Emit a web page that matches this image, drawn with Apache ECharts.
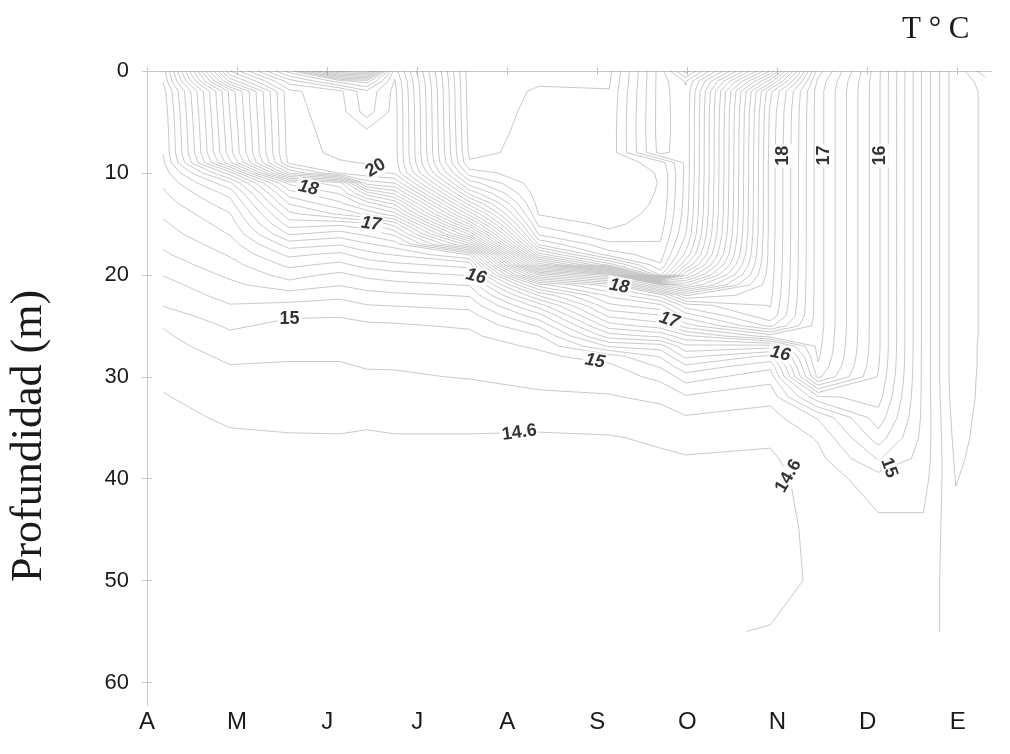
<!DOCTYPE html>
<html>
<head>
<meta charset="utf-8">
<title>Temperatura - Profundidad</title>
<script src="https://cdn.jsdelivr.net/npm/echarts@6/dist/echarts.min.js"></script>
<style>
  html, body { margin: 0; padding: 0; background: #ffffff; }
  #chart { width: 1010px; height: 754px; }
</style>
</head>
<body>
<div id="chart"></div>
<script>
// Month initials along the time axis (A = April ... E = January)
const monthLabels = ['A', 'M', 'J', 'J', 'A', 'S', 'O', 'N', 'D', 'E'];
const depthTicks = [0, 10, 20, 30, 40, 50, 60];

// Sampling times of each temperature profile, in months after the start of April
const stationTimes = [0.18, 0.92, 1.58, 2.14, 2.44, 2.75, 3.58, 4.35, 5.13, 5.70, 5.98, 6.92, 7.45, 8.12, 8.62, 8.98, 9.31];

// Depths (m) at which every profile is given
const depths = [0, 1, 2, 4, 6, 8, 9, 10, 11, 12, 13, 14, 15, 16, 17, 18, 19, 20, 21, 22, 23, 24, 25, 26, 27, 28, 29, 30, 32, 34, 36, 38, 40, 45, 50, 55];

// Temperature (deg C) profiles, one row per sampling time, one value per depth
const temperature = [
  [16.3, 16.22, 16.12, 16.06, 16.03, 16.01, 15.96, 15.89, 15.83, 15.77, 15.71, 15.63, 15.57, 15.51, 15.43, 15.37, 15.29, 15.21, 15.13, 15.07, 15.01, 14.91, 14.81, 14.77, 14.73, 14.69, 14.66, 14.63, 14.59, 14.56, 14.54, 14.52, 14.51, 14.5, 14.5, 14.5],
  [19.6, 19.05, 18.25, 18.21, 18.16, 18.12, 17.95, 17.1, 16.55, 16.27, 16.11, 15.99, 15.89, 15.81, 15.71, 15.62, 15.53, 15.44, 15.35, 15.27, 15.19, 15.11, 15.03, 14.96, 14.9, 14.84, 14.79, 14.74, 14.67, 14.62, 14.58, 14.55, 14.53, 14.51, 14.5, 14.5],
  [20.9, 20.3, 19.95, 19.93, 19.91, 19.9, 19.85, 19.22, 18.05, 17.7, 17.42, 17.15, 16.9, 16.62, 16.3, 16.05, 15.85, 15.68, 15.52, 15.31, 15.15, 15.02, 14.95, 14.9, 14.86, 14.82, 14.78, 14.75, 14.69, 14.63, 14.59, 14.56, 14.53, 14.51, 14.5, 14.5],
  [22.5, 20.9, 20.15, 20.11, 20.08, 20.05, 19.98, 19.82, 18.3, 18.02, 17.75, 17.45, 16.85, 16.5, 16.22, 15.95, 15.75, 15.55, 15.41, 15.25, 15.12, 15.01, 14.95, 14.91, 14.86, 14.82, 14.78, 14.75, 14.71, 14.64, 14.59, 14.56, 14.53, 14.51, 14.5, 14.5],
  [22.6, 21.1, 20.55, 20.5, 20.15, 20.06, 20.01, 19.93, 19.5, 18.7, 18.1, 17.65, 16.95, 16.65, 16.37, 16.12, 15.88, 15.66, 15.48, 15.33, 15.19, 15.05, 14.97, 14.92, 14.88, 14.84, 14.81, 14.77, 14.71, 14.63, 14.58, 14.55, 14.53, 14.51, 14.5, 14.5],
  [20.3, 20.18, 20.14, 20.12, 20.12, 20.12, 20.1, 20.03, 19.6, 19.05, 18.45, 17.95, 17.3, 16.85, 16.5, 16.22, 15.95, 15.72, 15.53, 15.36, 15.21, 15.06, 14.98, 14.93, 14.89, 14.85, 14.81, 14.78, 14.72, 14.64, 14.59, 14.56, 14.54, 14.51, 14.5, 14.5],
  [22.72, 22.71, 22.7, 22.69, 22.67, 22.64, 22.58, 22.3, 21.9, 21.45, 20.9, 20.3, 19.62, 18.82, 17.9, 16.62, 16.08, 15.82, 15.61, 15.42, 15.26, 15.12, 15.02, 14.96, 14.91, 14.87, 14.83, 14.81, 14.72, 14.64, 14.59, 14.56, 14.54, 14.51, 14.5, 14.5],
  [22.65, 22.62, 22.58, 22.56, 22.55, 22.55, 22.55, 22.55, 22.54, 22.52, 22.48, 22.42, 22.25, 22.03, 21.63, 20.9, 19.85, 18.45, 17.3, 16.62, 16.1, 15.72, 15.42, 15.18, 15.03, 14.95, 14.91, 14.87, 14.76, 14.65, 14.58, 14.56, 14.54, 14.52, 14.5, 14.5],
  [22.66, 22.63, 22.59, 22.56, 22.55, 22.55, 22.55, 22.55, 22.55, 22.55, 22.55, 22.5, 22.45, 22.35, 22.15, 21.9, 21.1, 19.1, 17.9, 17.45, 17.15, 16.85, 16.5, 16.1, 15.62, 15.1, 14.95, 14.91, 14.78, 14.66, 14.59, 14.56, 14.54, 14.52, 14.5, 14.5],
  [21.5, 21.5, 21.5, 21.5, 21.5, 21.52, 22.3, 22.38, 22.39, 22.38, 22.36, 22.34, 22.3, 22.25, 22.18, 22.1, 21.98, 21.65, 19.2, 17.9, 17.35, 16.98, 16.7, 16.25, 15.7, 15.42, 15.22, 15.05, 14.85, 14.7, 14.62, 14.58, 14.55, 14.52, 14.5, 14.5],
  [22.3, 21.82, 21.77, 21.75, 21.75, 21.75, 21.75, 21.75, 21.74, 21.73, 21.72, 21.7, 21.66, 21.61, 21.5, 21.35, 21.02, 20.45, 19.65, 18.62, 17.9, 17.5, 17.1, 16.55, 16.15, 15.85, 15.55, 15.3, 14.97, 14.78, 14.65, 14.59, 14.56, 14.53, 14.52, 14.55],
  [19.8, 19.1, 18.45, 18.36, 18.34, 18.33, 18.32, 18.32, 18.32, 18.32, 18.32, 18.32, 18.32, 18.32, 18.31, 18.31, 18.3, 18.29, 18.27, 18.25, 18.21, 18.15, 17.85, 17.1, 16.1, 15.55, 15.25, 15.08, 14.86, 14.72, 14.63, 14.57, 14.53, 14.48, 14.47, 14.62],
  [17.3, 17.15, 17.1, 17.1, 17.1, 17.1, 17.1, 17.1, 17.1, 17.1, 17.1, 17.1, 17.1, 17.1, 17.1, 17.1, 17.1, 17.1, 17.1, 17.1, 17.1, 17.1, 17.1, 17.08, 17.06, 17.03, 16.97, 16.85, 15.75, 15.02, 14.82, 14.74, 14.7, 14.68, 14.66, 14.65],
  [16.05, 16.04, 16.04, 16.04, 16.04, 16.04, 16.04, 16.04, 16.04, 16.04, 16.04, 16.04, 16.04, 16.04, 16.04, 16.04, 16.04, 16.04, 16.04, 16.04, 16.04, 16.04, 16.04, 16.04, 16.04, 16.03, 16.01, 15.98, 15.88, 15.72, 15.5, 15.22, 14.9, 14.75, 14.7, 14.68],
  [14.95, 14.95, 14.95, 14.95, 14.95, 14.95, 14.95, 14.95, 14.95, 14.95, 14.95, 14.95, 14.95, 14.95, 14.95, 14.95, 14.95, 14.95, 14.95, 14.95, 14.95, 14.95, 14.95, 14.95, 14.95, 14.95, 14.95, 14.95, 14.95, 14.95, 14.94, 14.92, 14.88, 14.76, 14.7, 14.68],
  [14.25, 14.25, 14.25, 14.25, 14.25, 14.25, 14.25, 14.25, 14.25, 14.25, 14.25, 14.25, 14.25, 14.25, 14.25, 14.25, 14.25, 14.25, 14.25, 14.25, 14.25, 14.25, 14.25, 14.25, 14.25, 14.25, 14.25, 14.25, 14.27, 14.3, 14.33, 14.36, 14.39, 14.46, 14.5, 14.52],
  [14.75, 14.5, 14.45, 14.45, 14.45, 14.45, 14.45, 14.45, 14.45, 14.45, 14.45, 14.45, 14.45, 14.45, 14.45, 14.45, 14.45, 14.45, 14.45, 14.45, 14.45, 14.45, 14.45, 14.45, 14.46, 14.46, 14.46, 14.47, 14.47, 14.48, 14.48, 14.49, 14.5, 14.52, 14.54, 14.55]
];

// Isotherm spacing
const levelMin = 13.8;
const levelMax = 23.0;
const levelStep = 0.2;

// Isotherms that carry a value label, and where along them the label sits (month, depth)
const labelLevels = [20, 18, 17, 16, 18, 17, 16, 15, 15, 14.6, 14.6, 15, 18, 17, 16];
const labelAnchors = [
  [2.58, 8.7], [1.80, 11.0], [2.49, 14.9], [3.74, 19.3], [5.26, 20.3], [5.82, 24.1], [7.04, 27.6],
  [1.58, 23.7], [4.98, 28.0], [4.13, 34.3], [7.21, 39.3], [8.14, 36.9],
  [6.99, 8.3], [7.51, 8.3], [8.07, 8.3]
];
const labelAngles = [30, -12, -8, -15, -10, -18, -12, 0, -10, 8, 60, -70, 90, 90, 90];
const labelItalic = [false, true, true, true, true, true, true, false, true, false, false, false, false, false, false];

// ---------- contouring (marching squares on the time x depth grid) ----------
const levels = [];
for (let k = 0; ; k++) {
  const L = Math.round((levelMin + k * levelStep) * 10) / 10;
  if (L > levelMax + 1e-9) break;
  levels.push(L);
}

function isoSegments(level) {
  const segs = [];
  const T = temperature, t = stationTimes, d = depths;
  const f = (a, b) => (level - a) / (b - a);
  for (let i = 0; i < t.length - 1; i++) {
    for (let j = 0; j < d.length - 1; j++) {
      const tl = T[i][j], tr = T[i + 1][j], br = T[i + 1][j + 1], bl = T[i][j + 1];
      if ([tl, tr, br, bl].some(v => v == null)) continue;
      const code = (tl > level ? 8 : 0) | (tr > level ? 4 : 0) | (br > level ? 2 : 0) | (bl > level ? 1 : 0);
      if (code === 0 || code === 15) continue;
      const top = { key: 'h' + i + '_' + j, p: [t[i] + (t[i + 1] - t[i]) * f(tl, tr), d[j]] };
      const bottom = { key: 'h' + i + '_' + (j + 1), p: [t[i] + (t[i + 1] - t[i]) * f(bl, br), d[j + 1]] };
      const left = { key: 'v' + i + '_' + j, p: [t[i], d[j] + (d[j + 1] - d[j]) * f(tl, bl)] };
      const right = { key: 'v' + (i + 1) + '_' + j, p: [t[i + 1], d[j] + (d[j + 1] - d[j]) * f(tr, br)] };
      const centre = (tl + tr + br + bl) / 4 > level;
      switch (code) {
        case 1: case 14: segs.push([left, bottom]); break;
        case 2: case 13: segs.push([bottom, right]); break;
        case 3: case 12: segs.push([left, right]); break;
        case 4: case 11: segs.push([top, right]); break;
        case 6: case 9: segs.push([top, bottom]); break;
        case 7: case 8: segs.push([left, top]); break;
        case 5:
          if (centre) { segs.push([left, top]); segs.push([bottom, right]); }
          else { segs.push([top, right]); segs.push([left, bottom]); }
          break;
        case 10:
          if (centre) { segs.push([top, right]); segs.push([left, bottom]); }
          else { segs.push([left, top]); segs.push([bottom, right]); }
          break;
      }
    }
  }
  return segs;
}

function chainSegments(segs) {
  const byKey = new Map();
  segs.forEach((s, idx) => {
    [s[0].key, s[1].key].forEach(k => {
      if (!byKey.has(k)) byKey.set(k, []);
      byKey.get(k).push(idx);
    });
  });
  const used = new Array(segs.length).fill(false);
  const lines = [];
  for (let s0 = 0; s0 < segs.length; s0++) {
    if (used[s0]) continue;
    used[s0] = true;
    const pts = [segs[s0][0], segs[s0][1]];
    for (const atEnd of [true, false]) {
      for (;;) {
        const tip = atEnd ? pts[pts.length - 1] : pts[0];
        const cand = (byKey.get(tip.key) || []).find(k => !used[k]);
        if (cand === undefined) break;
        used[cand] = true;
        const s = segs[cand];
        const next = s[0].key === tip.key ? s[1] : s[0];
        if (atEnd) pts.push(next); else pts.unshift(next);
      }
    }
    lines.push(pts.map(o => o.p));
  }
  return lines;
}

const isotherms = new Map();
const polylines = [];
levels.forEach(L => {
  const lines = chainSegments(isoSegments(L));
  isotherms.set(L, lines);
  lines.forEach(pts => polylines.push({ level: L, pts: pts }));
});

// translucent strokes, so that tightly packed isotherms darken into grey bands
const lineColor = 'rgba(60, 60, 60, 0.28)';
const isothermSeries = {
  name: 'isotermas',
  type: 'custom',
  coordinateSystem: 'cartesian2d',
  xAxisIndex: 0,
  yAxisIndex: 0,
  data: polylines.map((pl, idx) => [pl.pts[0][0], pl.pts[0][1], idx]),
  encode: { x: 0, y: 1 },
  renderItem: (params, api) => {
    const pl = polylines[api.value(2)];
    return {
      type: 'polyline',
      shape: { points: pl.pts.map(p => api.coord(p)) },
      style: { stroke: lineColor, lineWidth: 1, fill: null },
      silent: true
    };
  },
  clip: true,
  silent: true,
  animation: false,
  z: 2
};

const sansFont = "'Liberation Sans', Arial, Helvetica, sans-serif";
const narrowFont = "'Liberation Sans Narrow', 'Arial Narrow', 'Liberation Sans', Arial, sans-serif";
const serifFont = "'Liberation Serif', 'Times New Roman', Times, serif";
const axisGrey = '#c6c6c6';

const option = {
  backgroundColor: '#ffffff',
  animation: false,
  title: {
    text: 'T \u00b0 C',
    left: 897,
    top: 9,
    textStyle: { fontFamily: serifFont, fontSize: 31, fontWeight: 'normal', color: '#1a1a1a' }
  },
  graphic: [{
    type: 'text',
    x: 29,
    y: 436,
    rotation: Math.PI / 2,
    style: {
      text: 'Profundidad (m)',
      font: '44px ' + serifFont,
      fill: '#1a1a1a',
      align: 'center',
      verticalAlign: 'middle'
    }
  }],
  grid: { left: 147, right: 19, top: 71, bottom: 49, containLabel: false, show: false },
  xAxis: [{
    type: 'value',
    position: 'bottom',
    min: 0,
    max: 9.37,
    interval: 1,
    splitLine: { show: false },
    axisLine: { show: true, lineStyle: { color: axisGrey, width: 1 } },
    axisTick: { show: true, length: 4, customValues: monthLabels.map((m, i) => i), lineStyle: { color: axisGrey } },
    axisLabel: {
      show: true,
      margin: 5,
      customValues: monthLabels.map((m, i) => i),
      formatter: v => (Number.isInteger(v) && monthLabels[v] !== undefined) ? monthLabels[v] : '',
      fontFamily: narrowFont,
      fontSize: 24,
      color: '#1a1a1a'
    }
  }, {
    type: 'value',
    position: 'top',
    min: 0,
    max: 9.37,
    interval: 1,
    splitLine: { show: false },
    axisLine: { show: true, lineStyle: { color: axisGrey, width: 1 } },
    axisTick: { show: true, length: 4, customValues: monthLabels.map((m, i) => i), lineStyle: { color: axisGrey } },
    axisLabel: { show: false }
  }],
  yAxis: [{
    type: 'value',
    position: 'left',
    inverse: true,
    min: 0,
    max: 62.2,
    interval: 10,
    splitLine: { show: false },
    axisLine: { show: true, lineStyle: { color: axisGrey, width: 1 } },
    axisTick: { show: true, length: 5, customValues: depthTicks, lineStyle: { color: axisGrey } },
    axisLabel: {
      show: true,
      margin: 18,
      customValues: depthTicks,
      formatter: v => (v % 10 === 0 ? String(v) : ''),
      fontFamily: sansFont,
      fontSize: 22,
      color: '#1a1a1a'
    }
  }, {
    type: 'value',
    position: 'right',
    inverse: true,
    min: 0,
    max: 62.2,
    interval: 10,
    splitLine: { show: false },
    axisLine: { show: true, lineStyle: { color: axisGrey, width: 1 } },
    axisTick: { show: true, length: 5, customValues: depthTicks, lineStyle: { color: axisGrey } },
    axisLabel: { show: false }
  }],
  series: [isothermSeries]
};

const chart = echarts.init(document.getElementById('chart'), null, { renderer: 'canvas' });
chart.setOption(option);

// Place each value label on its own isotherm, at the point closest to its anchor
function fmtLevel(L) { return Number.isInteger(L) ? String(L) : L.toFixed(1); }
const toPx = p => chart.convertToPixel({ xAxisIndex: 0, yAxisIndex: 0 }, p);
const labelData = labelLevels.map((L, i) => {
  const a = toPx(labelAnchors[i]);
  let best = labelAnchors[i], bestDist = 30;
  (isotherms.get(L) || []).forEach(line => {
    for (let k = 0; k < line.length - 1; k++) {
      const p = toPx(line[k]), q = toPx(line[k + 1]);
      const dx = q[0] - p[0], dy = q[1] - p[1];
      const len2 = dx * dx + dy * dy;
      let u = len2 > 0 ? ((a[0] - p[0]) * dx + (a[1] - p[1]) * dy) / len2 : 0;
      u = Math.max(0, Math.min(1, u));
      const x = p[0] + u * dx, y = p[1] + u * dy;
      const dist = Math.hypot(x - a[0], y - a[1]);
      if (dist < bestDist) {
        bestDist = dist;
        best = chart.convertFromPixel({ xAxisIndex: 0, yAxisIndex: 0 }, [x, y]);
      }
    }
  });
  return {
    value: [best[0], best[1], L],
    label: { rotate: labelAngles[i], fontStyle: labelItalic[i] ? 'italic' : 'normal' }
  };
});

const labelSeries = {
  name: 'etiquetas',
  type: 'scatter',
  data: labelData,
  symbolSize: 1,
  itemStyle: { color: 'rgba(0,0,0,0)' },
  silent: true,
  animation: false,
  z: 10,
  label: {
    show: true,
    position: 'inside',
    formatter: p => fmtLevel(p.value[2]),
    fontFamily: sansFont,
    fontSize: 18,
    fontWeight: 'bold',
    color: '#000000',
    backgroundColor: '#ffffff',
    padding: [0, 2]
  }
};

chart.setOption({ series: [isothermSeries, labelSeries] });
</script>
</body>
</html>
